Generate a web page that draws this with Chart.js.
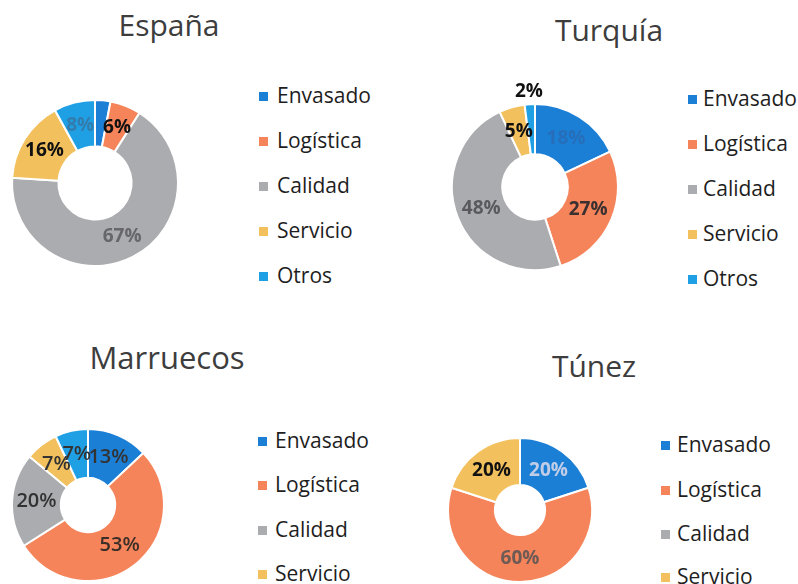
<!DOCTYPE html>
<html>
<head>
<meta charset="utf-8">
<script src="https://cdn.jsdelivr.net/npm/chart.js@4.4.1/dist/chart.umd.min.js"></script>
<style>
  html, body { margin:0; padding:0; background:#fff; }
  body { width:798px; height:584px; overflow:hidden; position:relative; font-family:"Open Sans", sans-serif; }
  .title { position:absolute; color:#3d3d3d; white-space:nowrap; transform:translateX(-50%); }
  .chartbox { position:absolute; width:220px; height:220px; }
  .leg { position:absolute; height:21px; line-height:21px; font-size:21px; color:#1e1e1e; white-space:nowrap; }
  .leg .sq { position:absolute; width:9px; height:9px; top:7px; }
  .leg .tx { position:absolute; left:0; top:0; }
</style>
</head>
<body>
<script>
// ---- data ----
const categories = ['Envasado', 'Logística', 'Calidad', 'Servicio', 'Otros'];
const titles = ['España', 'Turquía', 'Marruecos', 'Túnez'];
const espana    = [3, 6, 67, 16, 8];
const turquia   = [18, 27, 48, 5, 2];
const marruecos = [13, 53, 20, 7, 7];
const tunez     = [20, 60, 0, 20, 0];

// ---- styles ----
const colors = ['#1c7fd6', '#f5845a', '#abacb0', '#f3c05e', '#1f9fe4'];

const panels = [
  { data: espana, title: titles[0], tx: 169, ttop: 10, tsize: 30,
    cx: 95, cy: 183, outer: 83, inner: 48, labR: 65,
    labColors: [null, '#111', '#66666b', '#111', 'rgba(70,95,125,0.55)'],
    labFont: 'bold 19px "Open Sans"', labRadius: {},
    legX: 259, legTx: 277, legY: [95.5, 140.5, 185, 230, 275] },
  { data: turquia, title: titles[1], tx: 609, ttop: 15, tsize: 30,
    cx: 535, cy: 187, outer: 83, inner: 43, labR: 63,
    labColors: ['rgba(50,90,150,0.45)', '#3a3030', '#5a5a5e', '#111', '#111'],
    labFont: 'bold 19px "Open Sans"', labRadius: {4: 96},
    legX: 688, legTx: 703, legY: [98.4, 143.3, 188.2, 233.1, 278] },
  { data: marruecos, title: titles[2], tx: 167, ttop: 342, tsize: 31,
    cx: 88, cy: 505, outer: 76, inner: 39, labR: 58,
    labColors: ['#333333', '#3a2e28', '#333333', '#333333', '#333333'],
    labFont: '600 20px "Open Sans"', labRadius: {},
    legX: 258, legTx: 275, legY: [440, 484.5, 529, 573.5, 618] },
  { data: tunez, title: titles[3], tx: 594, ttop: 351, tsize: 30,
    cx: 520, cy: 510, outer: 72, inner: 38, labR: 55,
    labColors: ['rgba(235,225,235,0.8)', '#6e5a55', null, '#111', null],
    labFont: 'bold 19px "Open Sans"', labRadius: {},
    legX: 661, legTx: 677, legY: [444, 489, 533.5, 576, 620] }
];

const valueLabels = {
  id: 'valueLabels',
  afterDatasetsDraw(chart, args, opts) {
    const ctx = chart.ctx;
    const meta = chart.getDatasetMeta(0);
    const ds = chart.data.datasets[0];
    meta.data.forEach((arc, i) => {
      const c = opts.colors[i];
      const v = ds.data[i];
      if (!c || !v) return;
      const p = arc.getProps(['startAngle', 'endAngle', 'innerRadius', 'outerRadius', 'x', 'y'], true);
      const mid = (p.startAngle + p.endAngle) / 2;
      const r = (opts.radius && opts.radius[i]) || (p.innerRadius + p.outerRadius) / 2;
      ctx.save();
      ctx.font = opts.font;
      ctx.fillStyle = c;
      ctx.textAlign = 'center';
      ctx.textBaseline = 'middle';
      ctx.fillText(v + '%', p.x + Math.cos(mid) * r, p.y + Math.sin(mid) * r);
      ctx.restore();
    });
  }
};

panels.forEach((pn) => {
  // title
  const t = document.createElement('div');
  t.className = 'title';
  t.textContent = pn.title;
  t.style.left = pn.tx + 'px';
  t.style.top = pn.ttop + 'px';
  t.style.fontSize = pn.tsize + 'px';
  t.style.lineHeight = pn.tsize + 'px';
  document.body.appendChild(t);

  // legend
  categories.forEach((cat, i) => {
    const row = document.createElement('div');
    row.className = 'leg';
    row.style.left = pn.legX + 'px';
    row.style.top = (pn.legY[i] - 10.5) + 'px';
    const sq = document.createElement('span');
    sq.className = 'sq';
    sq.style.left = '0px';
    sq.style.background = colors[i];
    const tx = document.createElement('span');
    tx.className = 'tx';
    tx.style.left = (pn.legTx - pn.legX) + 'px';
    tx.textContent = cat;
    row.appendChild(sq);
    row.appendChild(tx);
    document.body.appendChild(row);
  });

  // chart
  const box = document.createElement('div');
  box.className = 'chartbox';
  box.style.left = (pn.cx - 110) + 'px';
  box.style.top = (pn.cy - 110) + 'px';
  const cv = document.createElement('canvas');
  box.appendChild(cv);
  document.body.appendChild(box);

  new Chart(cv, {
    type: 'doughnut',
    data: {
      labels: categories,
      datasets: [{
        data: pn.data,
        backgroundColor: colors,
        borderColor: '#ffffff',
        borderWidth: 2
      }]
    },
    options: {
      responsive: true,
      maintainAspectRatio: false,
      animation: false,
      radius: pn.outer,
      cutout: pn.inner,
      layout: { padding: 0 },
      plugins: {
        legend: { display: false },
        title: { display: false },
        tooltip: { enabled: false },
        valueLabels: { colors: pn.labColors, font: pn.labFont, radius: pn.labRadius }
      }
    },
    plugins: [valueLabels]
  });
});
</script>
</body>
</html>
